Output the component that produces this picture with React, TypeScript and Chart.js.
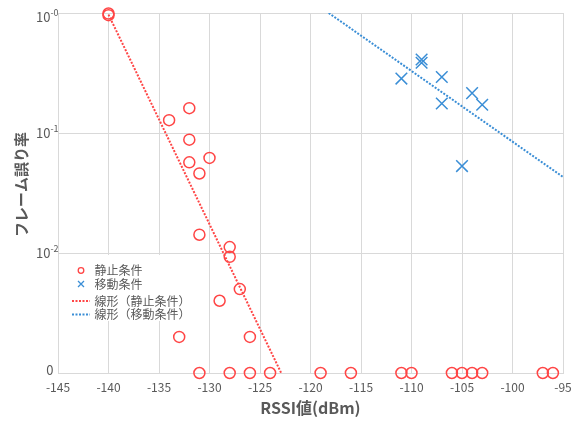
import React, { useEffect, useRef } from "react";
import { Chart, registerables } from "chart.js";

Chart.register(...registerables);

// 静止条件 (static condition)
const staticX = [-140, -140, -134, -132, -132, -132, -130, -131, -131, -128, -128, -127, -129, -133, -126,
  -131, -128, -126, -124, -119, -116, -111, -110, -106, -105, -104, -103, -97, -96];
const staticY = [0.99, 0.96, 0.128, 0.161, 0.088, 0.057, 0.062, 0.046, 0.0142, 0.0112, 0.0093, 0.005, 0.004, 0.002, 0.002,
  0, 0, 0, 0, 0, 0, 0, 0, 0, 0, 0, 0, 0, 0];

// 移動条件 (moving condition)
const movingX = [-111, -109, -109, -107, -107, -104, -103, -105];
const movingY = [0.284, 0.385, 0.41, 0.293, 0.176, 0.215, 0.172, 0.053];

// trend lines (線形)
const staticTrendX = [-140, -122.9];
const staticTrendY = [0.97, 0.001];
const movingTrendX = [-118.2, -95];
const movingTrendY = [1, 0.043];

const yTickValues = [1, 0.1, 0.01, 0.001];
const yTickBase = ["10", "10", "10", "0"];
const yTickExp = ["-0", "-1", "-2", ""];
const xMin = -145;
const xMax = -95;
const ZERO_FLOOR = 0.001;

const legendLabels = ["静止条件", "移動条件", "線形（静止条件）", "線形（移動条件）"];
const xTitle = "RSSI値(dBm)";
const yTitle = "フレーム誤り率";

const RED = "#ff4545";
const BLUE = "#3a8ed6";
const TEXT = "#595959";
const GRID = "#d9d9d9";
const FONT = "'Noto Sans CJK JP', 'Noto Sans', sans-serif";

const toPts = (xs: number[], ys: number[]) =>
  xs.map((x, i) => ({ x, y: ys[i] === 0 ? ZERO_FLOOR : ys[i] }));

const overlayPlugin = {
  id: "overlay",
  afterDraw(chart: any) {
    const ctx = chart.ctx as CanvasRenderingContext2D;
    const ys = chart.scales.y;
    const area = chart.chartArea;
    ctx.save();
    // y tick labels with superscripts
    ctx.fillStyle = TEXT;
    ctx.textBaseline = "middle";
    yTickValues.forEach((v, i) => {
      let py = ys.getPixelForValue(v);
      if (i === 0) py += 3.3;
      if (i === yTickValues.length - 1) py -= 2.5;
      if (yTickExp[i]) {
        ctx.font = `13px ${FONT}`;
        ctx.textAlign = "right";
        ctx.fillText(yTickBase[i], 50.5, py + 0.5);
        ctx.font = `9px ${FONT}`;
        ctx.textAlign = "left";
        ctx.fillText(yTickExp[i], 50.5, py - 4);
      } else {
        ctx.font = `13px ${FONT}`;
        ctx.textAlign = "right";
        ctx.fillText(yTickBase[i], 53.5, py);
      }
    });
    // axis titles
    ctx.font = `bold 16px ${FONT}`;
    ctx.textAlign = "center";
    ctx.textBaseline = "middle";
    ctx.fillText(xTitle, (area.left + area.right) / 2, 408);
    ctx.font = `bold 15px ${FONT}`;
    ctx.save();
    ctx.translate(21.7, 184.5);
    ctx.rotate(-Math.PI / 2);
    ctx.fillText(yTitle, 0, 0);
    ctx.restore();

    // legend
    ctx.fillStyle = "#ffffff";
    ctx.fillRect(area.left + 2, 255, 126, 66);
    const rows = [270.5, 284, 301, 314.5];
    const mx = 81;
    ctx.strokeStyle = RED;
    ctx.lineWidth = 1.3;
    ctx.beginPath();
    ctx.arc(mx, rows[0], 2.8, 0, Math.PI * 2);
    ctx.stroke();
    ctx.strokeStyle = BLUE;
    ctx.beginPath();
    ctx.moveTo(mx - 3, rows[1] - 3);
    ctx.lineTo(mx + 3, rows[1] + 3);
    ctx.moveTo(mx + 3, rows[1] - 3);
    ctx.lineTo(mx - 3, rows[1] + 3);
    ctx.stroke();
    ctx.lineWidth = 2;
    ctx.setLineDash([2, 1.5]);
    ctx.strokeStyle = RED;
    ctx.beginPath();
    ctx.moveTo(72, rows[2]);
    ctx.lineTo(90, rows[2]);
    ctx.stroke();
    ctx.strokeStyle = BLUE;
    ctx.beginPath();
    ctx.moveTo(72, rows[3]);
    ctx.lineTo(90, rows[3]);
    ctx.stroke();
    ctx.setLineDash([]);
    ctx.fillStyle = TEXT;
    ctx.font = `12px ${FONT}`;
    ctx.textAlign = "left";
    ctx.textBaseline = "middle";
    legendLabels.forEach((t, i) => ctx.fillText(t, 94.5, rows[i]));
    ctx.restore();
  },
};

export default function App() {
  const ref = useRef<HTMLCanvasElement | null>(null);
  useEffect(() => {
    if (!ref.current) return;
    const chart = new Chart(ref.current, {
      type: "scatter",
      data: {
        datasets: [
          {
            label: legendLabels[2],
            type: "line",
            data: toPts(staticTrendX, staticTrendY),
            borderColor: RED,
            borderWidth: 2,
            borderDash: [2, 1.5],
            pointRadius: 0,
            fill: false,
          } as any,
          {
            label: legendLabels[3],
            type: "line",
            data: toPts(movingTrendX, movingTrendY),
            borderColor: BLUE,
            borderWidth: 2,
            borderDash: [2, 1.5],
            pointRadius: 0,
            fill: false,
          } as any,
          {
            label: legendLabels[0],
            data: toPts(staticX, staticY),
            pointStyle: "circle",
            pointRadius: 5.5,
            borderWidth: 1.5,
            borderColor: RED,
            backgroundColor: "rgba(0,0,0,0)",
            clip: false,
          } as any,
          {
            label: legendLabels[1],
            data: toPts(movingX, movingY),
            pointStyle: "crossRot",
            pointRadius: 8.2,
            borderWidth: 1.5,
            borderColor: BLUE,
            backgroundColor: BLUE,
            clip: false,
          } as any,
        ],
      },
      options: {
        animation: false,
        responsive: true,
        maintainAspectRatio: false,
        layout: { padding: { top: 13, right: 17, left: 0, bottom: 0 } },
        plugins: { legend: { display: false }, tooltip: { enabled: false } },
        scales: {
          x: {
            type: "linear",
            min: xMin,
            max: xMax,
            ticks: {
              stepSize: 5,
              color: TEXT,
              font: { size: 12, family: FONT },
              padding: 7,
            },
            grid: { color: GRID, drawTicks: false, lineWidth: 1 },
            border: { color: GRID },
            afterFit: (s: any) => {
              s.height = 48;
            },
          },
          y: {
            type: "logarithmic",
            min: ZERO_FLOOR,
            max: 1,
            ticks: { display: false },
            grid: { color: GRID, drawTicks: false, lineWidth: 1 },
            border: { color: GRID },
            afterBuildTicks: (s: any) => {
              s.ticks = yTickValues.map((v) => ({ value: v }));
            },
            afterFit: (s: any) => {
              s.width = 58;
            },
          },
        },
      } as any,
      plugins: [overlayPlugin],
    });
    return () => chart.destroy();
  }, []);
  return (
    <div style={{ position: "fixed", left: 0, top: 0, width: 580, height: 421, background: "#fff" }}>
      <canvas ref={ref} />
    </div>
  );
}
